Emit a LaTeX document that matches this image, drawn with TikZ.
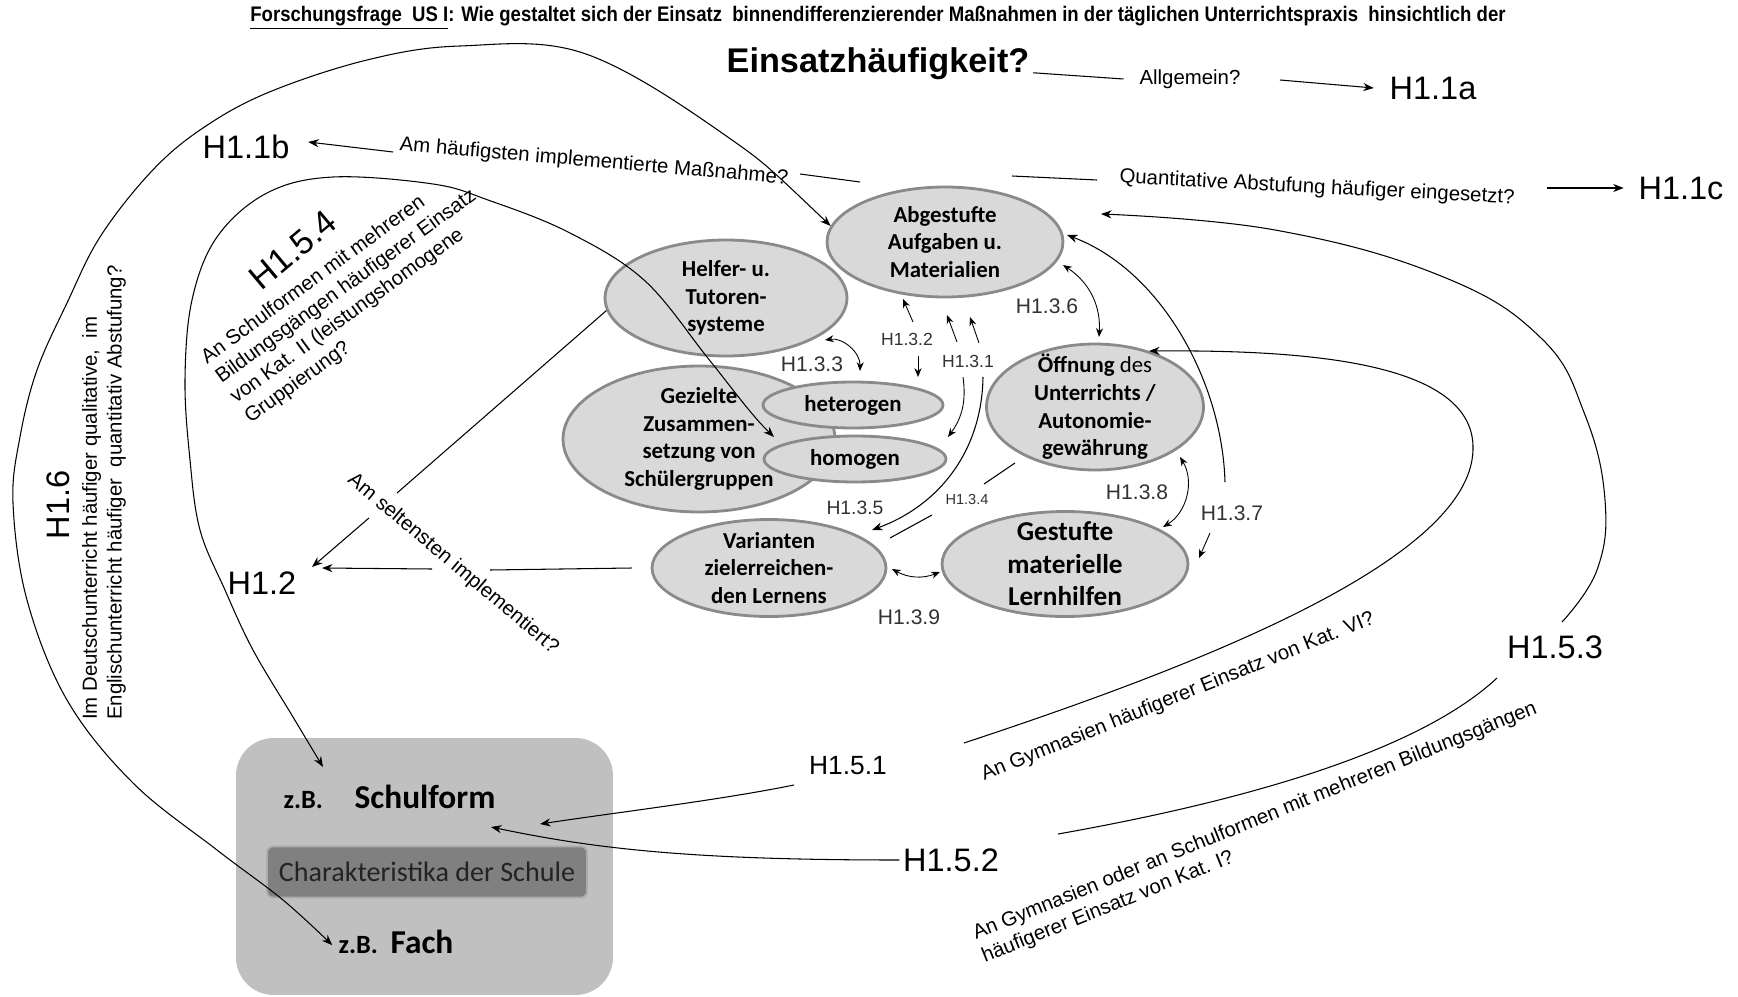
\documentclass[tikz,border=0pt]{standalone}
\usepackage{fontspec}
\setmainfont{Liberation Sans}
\newfontfamily\calib{Carlito}
\usetikzlibrary{shapes.geometric, arrows.meta, positioning}

\definecolor{blobfill}{RGB}{217,217,217}
\definecolor{blobline}{RGB}{138,138,138}
\definecolor{boxfill}{RGB}{192,192,192}
\definecolor{charfill}{RGB}{128,128,128}
\definecolor{charline}{RGB}{172,172,172}
\definecolor{chartext}{RGB}{35,35,35}
\definecolor{labgray}{RGB}{50,50,50}

\tikzstyle{blob} = [
    ellipse,
    draw=blobline,
    line width=1.6pt,
    fill=blobfill,
    inner sep=0pt
]
\tikzstyle{blobtext} = [
    align=center,
    inner sep=0pt,
    text=black,
    font=\calib\bfseries\fontsize{13}{15.7}\selectfont
]
\tikzstyle{hyp} = [inner sep=2pt, font=\fontsize{18.5}{20}\selectfont]
\tikzstyle{hsub} = [inner sep=1pt, text=labgray, font=\fontsize{12}{14}\selectfont]
\tikzstyle{ask} = [inner sep=1pt, font=\fontsize{11.6}{14}\selectfont]
\tikzstyle{conn} = [line width=0.6pt]
\tikzstyle{arr} = [line width=0.6pt, -{Stealth[length=6pt, width=4.6pt]}]
\tikzstyle{darr} = [line width=0.6pt, {Stealth[length=6pt, width=4.6pt]}-{Stealth[length=6pt, width=4.6pt]}]
\tikzstyle{sarr} = [line width=0.5pt, -{Stealth[length=5pt, width=4pt]}]
\tikzstyle{sdarr} = [line width=0.5pt, {Stealth[length=5pt, width=4pt]}-{Stealth[length=5pt, width=4pt]}]

\begin{document}
\begin{tikzpicture}[x=0.02cm, y=-0.02cm]
\useasboundingbox (0,0) rectangle (1738,997);

\node (title) [inner sep=0pt, font=\fontsize{12}{14}\selectfont\bfseries] at (878,18) {\scalebox{0.88}[1]{\underline{Forschungsfrage\ \ US I}: Wie gestaltet sich der Einsatz\ \ binnendifferenzierender Maßnahmen in der täglichen Unterrichtspraxis\ \ hinsichtlich der}};
\node (einsatz) [inner sep=2pt, font=\fontsize{19.5}{22}\selectfont\bfseries] at (878,64) {Einsatzhäufigkeit?};
\node (allg) [ask] at (1190,79) {Allgemein?};
\node (h11a) [hyp] at (1433,88) {H1.1a};
\node (h11b) [hyp] at (246,147) {H1.1b};
\node (amh) [ask, rotate=-5] at (594,162) {Am häufigsten implementierte Maßnahme?};
\node (quant) [ask, rotate=-3] at (1317,188) {Quantitative Abstufung häufiger eingesetzt?};
\node (h11c) [hyp] at (1681,188) {H1.1c};

\node (abg) [blob, minimum width=4.72cm, minimum height=2.2cm, label={[blobtext]center:Abgestufte\\Aufgaben u.\\Materialien}] at (945,242) {};
\node (helfer) [blob, minimum width=4.84cm, minimum height=2.32cm, label={[blobtext]center:Helfer- u.\\Tutoren-\\systeme}] at (726,298) {};
\node (gez) [blob, minimum width=5.44cm, minimum height=2.92cm, label={[blobtext]center:Gezielte\\Zusammen-\\setzung von\\Schülergruppen}] at (699,439) {};
\node (het) [blob, minimum width=3.6cm, minimum height=0.92cm, label={[blobtext]center:heterogen}] at (853,405) {};
\node (hom) [blob, minimum width=3.64cm, minimum height=0.92cm, label={[blobtext]center:homogen}] at (855,459) {};
\node (oeff) [blob, minimum width=4.34cm, minimum height=2.52cm, label={[blobtext]center:Öffnung {\mdseries des}\\Unterrichts /\\Autonomie-\\gewährung}] at (1095,407) {};
\node (var) [blob, minimum width=4.68cm, minimum height=1.94cm, label={[blobtext]center:Varianten\\zielerreichen-\\den Lernens}] at (769,568) {};
\node (ges) [blob, minimum width=4.92cm, minimum height=2.1cm, label={[blobtext, font=\calib\bfseries\fontsize{15.5}{18.5}\selectfont]center:Gestufte\\materielle\\Lernhilfen}] at (1065,564) {};

\node (schule) [fill=boxfill, rounded corners=0.75cm, minimum width=7.54cm, minimum height=5.14cm, inner sep=0pt] at (424.5,866.5) {};
\node (charak) [fill=charfill, draw=charline, line width=1pt, rounded corners=0.12cm, minimum width=6.4cm, minimum height=1.02cm, text=chartext, font=\calib\fontsize{16}{18}\selectfont] at (427,872) {Charakteristika der Schule};
\node (schulform) [inner sep=0pt, font=\calib\bfseries\fontsize{19}{22}\selectfont] at (425,797) {Schulform};
\node (zb1) [left=0.62cm of schulform.base west, anchor=base east, inner sep=0pt, font=\calib\bfseries\fontsize{15}{17}\selectfont] {z.B.};
\node (fach) [inner sep=0pt, font=\calib\bfseries\fontsize{19}{22}\selectfont] at (422,942) {Fach};
\node (zb2) [left=0.24cm of fach.base west, anchor=base east, inner sep=0pt, font=\calib\bfseries\fontsize{15}{17}\selectfont] {z.B.};

\node (h16) [hyp, rotate=90] at (58,505) {H1.6};
\node (deutsch) [ask, rotate=90, align=left, anchor=west] at (104,722) {Im Deutschunterricht häufiger qualitative,\ \ im\\Englischunterricht häufiger\ \ quantitativ Abstufung?};
\node (h154) [hyp, rotate=40, font=\fontsize{19.5}{22}\selectfont] at (293,250) {H1.5.4};
\node (kat2) [ask, rotate=36, align=left, anchor=north west, inner sep=0pt] at (198,352) {An Schulformen mit mehreren\\Bildungsgängen häufigerer Einsatz\\von Kat. II (leistungshomogene\\Gruppierung?};
\node (selten) [ask, rotate=-40] at (453,564) {Am seltensten implementiert?};
\node (h12) [hyp] at (262,583) {H1.2};

\node (h151) [hyp, font=\fontsize{15}{17}\selectfont] at (848,766) {H1.5.1};
\node (h152) [hyp] at (951,860) {H1.5.2};
\node (h153) [hyp] at (1555,647) {H1.5.3};
\node (kat6) [ask, rotate=22] at (1178,697) {An Gymnasien häufigerer Einsatz von Kat. VI?};
\node (kat1) [ask, rotate=22, align=left, anchor=north west, inner sep=0pt] at (970,926) {An Gymnasien oder an Schulformen mit mehreren Bildungsgängen\\häufigerer Einsatz von Kat. I?};

\node (h131) [hsub, font=\fontsize{10}{12}\selectfont] at (968,361) {H1.3.1};
\node (h132) [hsub, font=\fontsize{10}{12}\selectfont] at (907,339) {H1.3.2};
\node (h133) [hsub] at (812,364) {H1.3.3};
\node (h134) [hsub, font=\fontsize{8.3}{10}\selectfont] at (967,499) {H1.3.4};
\node (h135) [hsub, font=\fontsize{11}{13}\selectfont] at (855,508) {H1.3.5};
\node (h136) [hsub] at (1047,306) {H1.3.6};
\node (h137) [hsub] at (1232,513) {H1.3.7};
\node (h138) [hsub] at (1137,492) {H1.3.8};
\node (h139) [hsub] at (909,617) {H1.3.9};

\coordinate (m1) at (393,152);
\coordinate (m2) at (800,174);
\coordinate (m3) at (860,182);
\coordinate (q1) at (1012,176);
\coordinate (q2) at (1097,180);
\coordinate (q3) at (1547,188);
\coordinate (a1) at (1280,80);
\coordinate (i1) at (774,437);
\coordinate (i2) at (323,767);
\coordinate (s1) at (1562,622);
\coordinate (s2) at (1101,214);
\coordinate (g1) at (964,743);
\coordinate (g2) at (794,785);
\coordinate (g3) at (540,824);
\coordinate (g4) at (491,827);
\coordinate (g5) at (1497,678);
\coordinate (g6) at (1058,834);
\coordinate (t1) at (397,493);
\coordinate (t2) at (369,518);
\coordinate (t3) at (312,567);
\coordinate (t4) at (490,570);
\coordinate (t5) at (432,569);
\coordinate (t6) at (322,568);

\draw [conn] (einsatz.base east) -- ([xshift=-0.28cm]allg.west);
\draw [arr] (a1) -- ([xshift=-0.24cm]h11a.west);
\draw [arr] (m1) -- ([xshift=0.3cm, yshift=0.1cm]h11b.east);
\draw [conn] (m2) -- (m3);
\draw [conn] (q1) -- (q2);
\draw [arr] (q3) -- ([xshift=-0.22cm]h11c.west);

\draw [darr] plot [smooth, tension=0.6] coordinates {(abg.172) (722,133) (583,53) (460,46) (367,60) (267,93) (200,130) (150,173) (100,237) (67,303) (37,370) (20,437) (13,503) (27,600) (67,700) (133,783) (217,850) (283,900) ([xshift=-0.12cm]zb2.west)};
\draw [darr] plot [smooth, tension=0.6] coordinates {(i1) (749,410) (707,357) (644,280) (568,232) (488,200) (433,184) (333,177) (267,193) (217,237) (192,300) (185,380) (190,460) (200,530) (225,590) (253,650) (293,717) (i2)};
\draw [arr] plot [smooth, tension=0.7] coordinates {(s1) (1597,570) (1605,500) (1585,415) (1541,338) (1441,276) (1275,230) (s2)};
\draw [arr] (g1) .. controls (1200,665) and (1470,560) .. (1473,450) .. controls (1476,360) and (1300,350) .. (oeff.46);
\draw [arr] (g2) .. controls (720,800) and (620,812) .. (g3);
\draw [conn] (g5) .. controls (1420,750) and (1250,800) .. (g6);
\draw [arr] (h152.west) .. controls (700,860) and (600,850) .. (g4);

\draw [conn] (helfer.186) -- (t1);
\draw [arr] (t2) -- (t3);
\draw [conn] ([xshift=-0.38cm]var.west) -- (t4);
\draw [arr] (t5) -- (t6);

\draw [sdarr] (825,340) to [bend left=50] (860,371);
\draw [sdarr] (1063,265) to [bend left=30] (1099,337);
\draw [sdarr] (1180,457) to [bend left=45] (1163,527);
\draw [sdarr] (892,569) to [bend right=25] (940,572);
\draw [sarr] (913,322) -- (903,299);
\draw [sarr] (918,356) -- (918,377);
\draw [sarr] (957,342) -- (947,315);
\draw [sarr] (979,343) -- (970,317);
\draw [sarr] (963,377) to [bend left=22] (948,437);
\draw [arr] (983,377) .. controls (982,450) and (940,505) .. (872,530);
\draw [conn] (1015,463) -- (984,484);
\draw [conn] (932,515) -- (890,538);
\draw [arr] (1225,482) .. controls (1222,380) and (1160,270) .. (1067,235);
\draw [sarr] (1210,533) -- (1199,558);

\end{tikzpicture}
\end{document}
